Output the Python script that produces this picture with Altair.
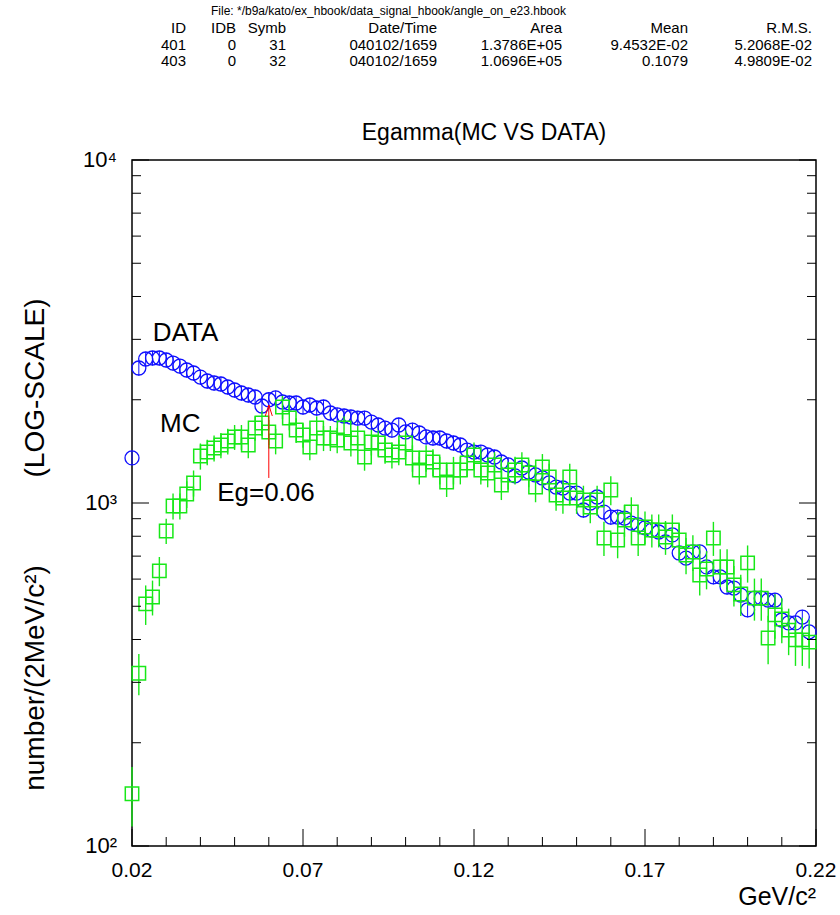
import altair as alt
import pandas as pd

# ---------------- data ----------------
BIN_START = 0.020
BIN_WIDTH = 0.002

DATA_VAL = [1353, 2475, 2629, 2647, 2647, 2612, 2559, 2508, 2442, 2393,
            2329, 2268, 2238, 2223, 2179, 2135, 2093, 2065, 2037, 1918,
            2000, 2024, 1970, 1957, 1957, 1905, 1931, 1892, 1905, 1830,
            1806, 1793, 1781, 1769, 1769, 1722, 1688, 1654, 1632, 1688,
            1611, 1632, 1600, 1558, 1547, 1547, 1516, 1496, 1476, 1427,
            1408, 1408, 1380, 1362, 1317, 1291, 1200, 1265, 1231, 1207,
            1183, 1144, 1113, 1106, 1069, 1069, 954, 1000, 1041, 941,
            910, 910, 904, 874, 863, 846, 834, 823, 770, 807,
            715, 691, 720, 720, 651, 609, 609, 569, 565, 539,
            488, 528, 528, 521, 521, 456, 447, 447, 465, 421]
DATA_ERR = [65, 125, 130, 130, 130, 130, 128, 125, 122, 120,
            116, 113, 112, 111, 109, 107, 105, 103, 102, 96,
            100, 101, 98, 98, 98, 95, 97, 95, 95, 92,
            90, 90, 89, 88, 88, 86, 84, 83, 82, 84,
            81, 82, 80, 78, 77, 77, 76, 75, 74, 71,
            70, 70, 69, 68, 66, 65, 60, 63, 62, 60,
            59, 57, 56, 55, 53, 53, 48, 50, 52, 47,
            46, 46, 45, 44, 43, 42, 42, 41, 39, 40,
            36, 35, 36, 36, 33, 30, 30, 28, 28, 27,
            24, 26, 26, 26, 26, 23, 22, 22, 23, 21]

MC_VAL = [142, 319, 508, 532, 634, 829, 980, 980, 1062, 1144,
          1371, 1408, 1447, 1476, 1516, 1558, 1558, 1476, 1654, 1711,
          1611, 1516, 1905, 1769, 1632, 1579, 1457, 1654, 1547, 1547,
          1526, 1654, 1496, 1547, 1362, 1506, 1496, 1427, 1380, 1408,
          1496, 1353, 1248, 1353, 1317, 1248, 1151, 1248, 1248, 1308,
          1380, 1248, 1223, 1291, 1128, 1207, 1248, 1291, 1223, 1113,
          1274, 1191, 1055, 1034, 1191, 1034, 1020, 973, 1020, 791,
          1091, 780, 892, 941, 791, 851, 834, 834, 796, 834,
          780, 705, 720, 617, 642, 791, 651, 651, 577, 543,
          669, 528, 528, 404, 472, 459, 426, 399, 399, 393]
MC_ERR = [28, 44, 67, 62, 62, 70, 85, 85, 95, 100,
          120, 120, 125, 125, 130, 130, 130, 125, 135, 140,
          135, 130, 150, 140, 135, 130, 125, 135, 130, 130,
          130, 135, 130, 130, 120, 130, 130, 125, 120, 120,
          130, 120, 115, 120, 118, 115, 110, 115, 115, 118,
          120, 115, 112, 116, 108, 112, 115, 116, 112, 108,
          115, 110, 105, 104, 110, 104, 103, 100, 103, 90,
          106, 90, 95, 98, 90, 93, 92, 92, 90, 92,
          90, 85, 86, 80, 82, 90, 82, 82, 78, 75,
          83, 74, 74, 65, 70, 69, 66, 64, 64, 64]

X_MAJOR = [0.02, 0.07, 0.12, 0.17, 0.22]
X_LABELS = ["0.02", "0.07", "0.12", "0.17", "0.22"]
X_MINOR = [0.03, 0.04, 0.05, 0.06, 0.08, 0.09, 0.10, 0.11,
           0.13, 0.14, 0.15, 0.16, 0.18, 0.19, 0.20, 0.21]
Y_MAJOR = [100, 1000, 10000]
Y_LABELS = ["10²", "10³", "10⁴"]
Y_MINOR = [200, 300, 400, 500, 600, 700, 800, 900,
           2000, 3000, 4000, 5000, 6000, 7000, 8000, 9000]

TITLE = "Egamma(MC VS DATA)"
X_TITLE = "GeV/c²"
Y_TITLE_A = "number/(2MeV/c²)"
Y_TITLE_B = "(LOG-SCALE)"

FILE_LINE = "File: */b9a/kato/ex_hbook/data_signal_hbook/angle_on_e23.hbook"
HEAD = ["ID", "IDB", "Symb", "Date/Time", "Area", "Mean", "R.M.S."]
ROW_401 = ["401", "0", "31", "040102/1659", "1.3786E+05", "9.4532E-02", "5.2068E-02"]
ROW_403 = ["403", "0", "32", "040102/1659", "1.0696E+05", "0.1079", "4.9809E-02"]

ANNOT_TEXT = ["DATA", "MC", "Eg=0.06"]
ANNOT_X = [0.0261, 0.0282, 0.0449]
ANNOT_Y = [3130, 1700, 1070]
ARROW_X = 0.06
ARROW_Y = [1183, 1931]

# ---------------- layout / style ----------------
W, H = 684, 686
PAD = {"left": 132, "top": 160, "right": 24, "bottom": 69}
FONT = "Liberation Sans, Arial, Helvetica, sans-serif"
BLUE = "#1010ff"
GREEN = "#18e818"

xs = [round(BIN_START + BIN_WIDTH * i, 3) for i in range(len(DATA_VAL))]
data_df = pd.DataFrame({"x": xs, "v": DATA_VAL,
                        "lo": [v - e for v, e in zip(DATA_VAL, DATA_ERR)],
                        "hi": [v + e for v, e in zip(DATA_VAL, DATA_ERR)]})
mc_df = pd.DataFrame({"x": xs, "v": MC_VAL,
                      "lo": [v - e for v, e in zip(MC_VAL, MC_ERR)],
                      "hi": [v + e for v, e in zip(MC_VAL, MC_ERR)]})

xscale = alt.Scale(domain=[0.02, 0.22], nice=False, zero=False)
yscale = alt.Scale(type="log", domain=[100, 10000], nice=False)


def X(f="x"):
    return alt.X(f"{f}:Q", scale=xscale, axis=None)


def Y(f):
    return alt.Y(f"{f}:Q", scale=yscale, axis=None)


layers = []

# DATA error bars and circles
layers.append(alt.Chart(data_df).mark_rule(color=BLUE, strokeWidth=1).encode(
    x=X(), y=Y("lo"), y2="hi:Q"))
layers.append(alt.Chart(data_df).mark_point(shape="circle", filled=False, size=196,
                                            color=BLUE, strokeWidth=1.3, opacity=1).encode(
    x=X(), y=Y("v")))
# MC error bars and squares
layers.append(alt.Chart(mc_df).mark_rule(color=GREEN, strokeWidth=1.4).encode(
    x=X(), y=Y("lo"), y2="hi:Q"))
layers.append(alt.Chart(mc_df).mark_point(shape="square", filled=False, size=180,
                                          color=GREEN, strokeWidth=1.5, opacity=1).encode(
    x=X(), y=Y("v")))


# inward ticks (PAW style)
def yticks(vals, x0, x1):
    return alt.Chart(pd.DataFrame({"t": vals})).mark_rule(color="black", strokeWidth=1).encode(
        y=Y("t"), x=alt.value(x0), x2=alt.value(x1))


def xticks(vals, y0, y1):
    return alt.Chart(pd.DataFrame({"t": vals})).mark_rule(color="black", strokeWidth=1).encode(
        x=X("t"), y=alt.value(y0), y2=alt.value(y1))


layers += [yticks(Y_MAJOR, 0, 17), yticks(Y_MINOR, 0, 9),
           yticks(Y_MAJOR, W, W - 17), yticks(Y_MINOR, W, W - 9),
           xticks(X_MAJOR, H, H - 17), xticks(X_MINOR, H, H - 9)]

# tick labels
layers.append(alt.Chart(pd.DataFrame({"t": X_MAJOR, "s": X_LABELS})).mark_text(
    font=FONT, fontSize=21, align="center", baseline="middle", color="black").encode(
    x=X("t"), y=alt.value(H + 25), text="s:N"))
layers.append(alt.Chart(pd.DataFrame({"t": Y_MAJOR, "s": Y_LABELS})).mark_text(
    font=FONT, fontSize=22, align="right", baseline="middle", color="black").encode(
    y=Y("t"), x=alt.value(-15), text="s:N"))

# annotations
ann_df = pd.DataFrame({"x": ANNOT_X, "y": ANNOT_Y, "t": ANNOT_TEXT})
layers.append(alt.Chart(ann_df).mark_text(align="left", baseline="middle", font=FONT,
                                          fontSize=26, color="black").encode(
    x=X(), y=Y("y"), text="t:N"))
arrow_df = pd.DataFrame({"x": [ARROW_X], "y0": [ARROW_Y[0]], "y1": [ARROW_Y[1]]})
layers.append(alt.Chart(arrow_df).mark_rule(color="red", strokeWidth=1).encode(
    x=X(), y=Y("y0"), y2="y1:Q"))
layers.append(alt.Chart(arrow_df).mark_point(shape="M-0.7,2.2L0,0L0.7,2.2", filled=False,
                                             size=100, color="red", strokeWidth=1,
                                             opacity=1).encode(
    x=X(), y=Y("y1")))

one = pd.DataFrame({"a": [0]})


def label(text, x, y, size, align="left", angle=0):
    return alt.Chart(one).mark_text(text=text, align=align, baseline="middle", font=FONT,
                                    fontSize=size, angle=angle, color="black").encode(
        x=alt.value(x), y=alt.value(y))


# titles
layers.append(label(TITLE, 352, -27, 23, align="center"))
layers.append(label(X_TITLE, W, 737, 25, align="right"))
layers.append(label(Y_TITLE_A, -96, 518, 28, align="center", angle=270))
layers.append(label(Y_TITLE_B, -96, 228, 28, align="center", angle=270))

# header table
layers.append(label(FILE_LINE, 79, -149, 12))
COL_RIGHT = [54, 104, 154, 305, 430, 556, 680]
for row, yy in ((HEAD, -132), (ROW_401, -115), (ROW_403, -99)):
    for txt, xr in zip(row, COL_RIGHT):
        layers.append(label(txt, xr, yy, 15, align="right"))

chart = alt.layer(*layers).properties(
    width=W, height=H, padding=PAD, autosize=alt.AutoSizeParams(type="none"),
    background="white"
).configure_view(stroke="black", strokeWidth=1.5)

chart.save("out.html", embed_options={"renderer": "svg", "actions": False})
